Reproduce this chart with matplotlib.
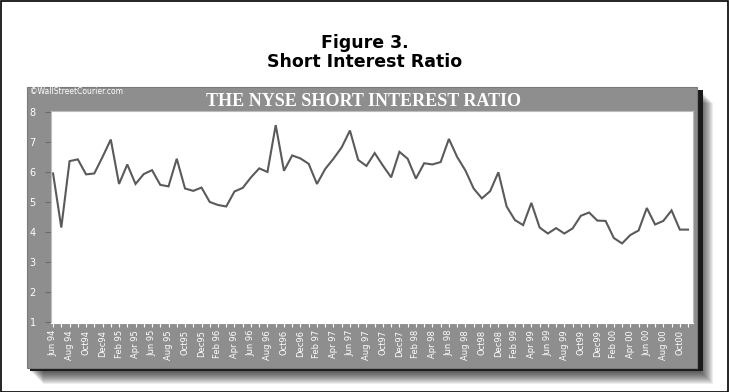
import matplotlib

matplotlib.use("Agg")
import matplotlib.pyplot as plt
from matplotlib.patches import Rectangle
import numpy as np

W, H = 729, 392

TICK_LABELS = [
    "Jun 94", "Aug 94", "Oct94", "Dec94",
    "Feb 95", "Apr 95", "Jun 95", "Aug 95", "Oct95", "Dec95",
    "Feb 96", "Apr 96", "Jun 96", "Aug 96", "Oct96", "Dec96",
    "Feb 97", "Apr 97", "Jun 97", "Aug 97", "Oct97", "Dec97",
    "Feb 98", "Apr 98", "Jun 98", "Aug 98", "Oct98", "Dec98",
    "Feb 99", "Apr 99", "Jun 99", "Aug 99", "Oct99", "Dec99",
    "Feb 00", "Apr 00", "Jun 00", "Aug 00", "Oct00",
]
# monthly NYSE short interest ratio, Jun 1994 .. Nov 2000
RATIO = [
    5.95, 4.15, 6.36, 6.42, 5.92, 5.95, 6.50,            # 1994
    7.08, 5.60, 6.25, 5.60, 5.93, 6.06, 5.57, 5.52, 6.44, 5.45, 5.37, 5.48,  # 1995
    5.00, 4.90, 4.85, 5.35, 5.47, 5.82, 6.12, 6.00, 7.56, 6.04, 6.55, 6.45,  # 1996
    6.27, 5.60, 6.10, 6.44, 6.82, 7.38, 6.40, 6.20, 6.63, 6.21, 5.82, 6.67,  # 1997
    6.44, 5.78, 6.29, 6.25, 6.33, 7.10, 6.50, 6.05, 5.45, 5.12, 5.36, 5.99,  # 1998
    4.85, 4.40, 4.23, 4.97, 4.15, 3.95, 4.13, 3.95, 4.12, 4.54, 4.65, 4.38,  # 1999
    4.37, 3.80, 3.62, 3.90, 4.05, 4.80, 4.25, 4.37, 4.72, 4.08, 4.08,        # 2000
]
Y_TICKS = [1, 2, 3, 4, 5, 6, 7, 8]

PANEL_GREY = "#8e8e8e"
LINE_GREY = "#5a5a5a"


def fx(px):
    return px / W


def fy(py):
    return 1 - py / H


def main() -> None:
    fig = plt.figure(figsize=(W / 100, H / 100), dpi=100, facecolor="white")

    # outer frame of the page
    fig.patches.append(Rectangle((0.5 / W, 0.5 / H), 1 - 1.5 / W, 1 - 1.5 / H, transform=fig.transFigure,
                                 fill=False, edgecolor="black", lw=1.2))

    fig.text(0.5, fy(43), "Figure 3.", ha="center", va="center", fontsize=12.5, fontweight="bold")
    fig.text(0.5, fy(62), "Short Interest Ratio", ha="center", va="center", fontsize=12.5, fontweight="bold")

    # soft drop shadow of the chart panel
    px0, py0, px1, py1 = 27, 87, 697, 368
    for k in range(14, 0, -1):
        off = 2 + k
        fig.patches.append(Rectangle((fx(px0 + off), fy(py1 + off)), fx(px1 - px0), (py1 - py0) / H,
                                     transform=fig.transFigure, facecolor="black", edgecolor="none",
                                     alpha=0.07, zorder=0))
    fig.patches.append(Rectangle((fx(px0 + 3), fy(py1 + 3)), fx(px1 - px0 + 3), (py1 - py0) / H,
                                 transform=fig.transFigure, facecolor="#1a1a1a", edgecolor="none", zorder=0.5))
    fig.patches.append(Rectangle((fx(px0), fy(py1)), fx(px1 - px0), (py1 - py0) / H,
                                 transform=fig.transFigure, facecolor=PANEL_GREY, edgecolor="#7a7a7a",
                                 lw=0.8, zorder=1))

    fig.text(fx(30), fy(92), "\u00a9WallStreetCourier.com", color="white", fontsize=5.5, ha="left", va="center",
             zorder=3)
    fig.text(fx(364), fy(101), "THE NYSE SHORT INTEREST RATIO", color="white", fontsize=13,
             fontweight="bold", family="Liberation Serif", ha="center", va="center", zorder=3)

    ax = fig.add_axes([fx(51), fy(323), fx(693 - 51), (323 - 111) / H], zorder=2)
    ax.set_facecolor("white")
    x = np.arange(len(RATIO))
    ax.plot(x, RATIO, color=LINE_GREY, lw=1.5, solid_joinstyle="miter")

    ax.set_xlim(-0.25, len(RATIO) - 0.4)
    ax.set_ylim(0.97, 8.03)
    ax.set_yticks(Y_TICKS)
    ax.set_yticklabels([str(v) for v in Y_TICKS], color="white", fontsize=7)
    ax.set_xticks(np.arange(0, 2 * len(TICK_LABELS), 2))
    ax.set_xticklabels(TICK_LABELS, rotation=90, color="white", fontsize=6)
    ax.set_xticks(x, minor=True)
    ax.tick_params(axis="x", which="both", direction="out", color="white", length=3, width=0.8, pad=2)
    ax.tick_params(axis="y", direction="out", color="#6a6a6a", length=4, width=0.8, pad=7)
    for spine in ax.spines.values():
        spine.set_color("#bdbdbd")
        spine.set_linewidth(0.8)
    ax.spines["bottom"].set_color("white")

    fig.savefig("out.png", dpi=100, facecolor="white")
    plt.close(fig)


if __name__ == "__main__":
    main()
